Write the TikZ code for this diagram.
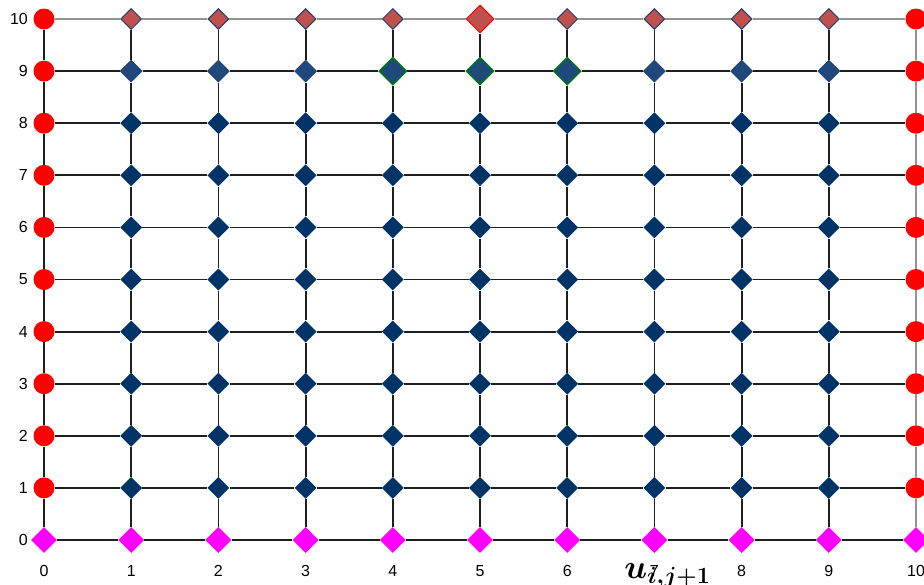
\documentclass[tikz,border=0pt]{standalone}
\usepackage{amsmath,bm}
\usepackage{fontspec}
\setmainfont{Liberation Sans}
\usetikzlibrary{shapes.geometric}
\definecolor{topred}{HTML}{C0504D}
\definecolor{topblue}{HTML}{1F3F6F}
\definecolor{rowblue}{HTML}{1F497D}
\definecolor{navy}{HTML}{003366}
\definecolor{greenb}{HTML}{008000}
\definecolor{pinkm}{HTML}{FF00FF}
\definecolor{redc}{HTML}{FF0000}
\begin{document}
\begin{tikzpicture}[x=1pt,y=-1pt,
  bnd/.style={circle,fill=redc,minimum size=21,inner sep=0},
  botd/.style={diamond,aspect=1,fill=pinkm,minimum size=26,inner sep=0},
  topd/.style={diamond,aspect=1,fill=topred,draw=topblue,line width=1,minimum size=21,inner sep=0},
  topbig/.style={topd,draw=redc,minimum size=28},
  rowd/.style={diamond,aspect=1,fill=rowblue,draw=topblue,line width=0.8,minimum size=22,inner sep=0},
  rowbig/.style={rowd,draw=greenb,line width=1.2,minimum size=28},
  intd/.style={diamond,aspect=1,fill=navy,minimum size=22,inner sep=0},
  edge/.style={line width=1.8,black!88},
  gedge/.style={line width=2.2,gray!85},
  lab/.style={font=\fontsize{16}{18}\selectfont,inner sep=0}]
\useasboundingbox (0,0) rectangle (924,584);
\foreach \i in {0,...,10}{
  \foreach \j in {0,...,10}{
    \pgfmathsetmacro\px{44+87.2*\i}
    \pgfmathsetmacro\py{540-52.1*\j}
    \ifnum\j=0 \def\st{botd}\else
      \ifnum\i=0 \def\st{bnd}\else
        \ifnum\i=10 \def\st{bnd}\else
          \ifnum\j=10
            \ifnum\i=5 \def\st{topbig}\else\def\st{topd}\fi
          \else
            \ifnum\j=9
              \def\st{rowd}%
              \ifnum\i>3 \ifnum\i<7 \def\st{rowbig}\fi\fi
            \else
              \def\st{intd}%
            \fi
          \fi
        \fi
      \fi
    \fi
    \node[\st] (n\i-\j) at (\px,\py) {};
  }
}
% horizontal connectors
\foreach \i in {0,...,9}{
  \foreach \j in {0,...,10}{
    \pgfmathtruncatemacro\k{\i+1}
    \ifnum\j=10 \def\es{gedge}\else\def\es{edge}\fi
    \draw[\es] (n\i-\j) -- (n\k-\j);
  }
}
% vertical connectors
\foreach \i in {0,...,10}{
  \foreach \j in {0,...,9}{
    \pgfmathtruncatemacro\k{\j+1}
    \ifnum\i=10 \def\es{gedge}\else\def\es{edge}\fi
    \draw[\es] (n\i-\j) -- (n\i-\k);
  }
}
% axis labels
\foreach \j in {0,...,10}{
  \pgfmathsetmacro\py{540-52.1*\j}
  \node[lab,anchor=east] (yl\j) at (28,\py) {\j};
}
\foreach \i in {0,...,10}{
  \pgfmathsetmacro\px{44+87.2*\i}
  \node[lab] (xl\i) at (\px,571) {\i};
}
\node[anchor=north west,inner sep=0,scale=1.35,font=\fontsize{24}{28}\selectfont] (ulab) at (624,563) {$\bm{u_{i,j+1}}$};
\end{tikzpicture}
\end{document}
